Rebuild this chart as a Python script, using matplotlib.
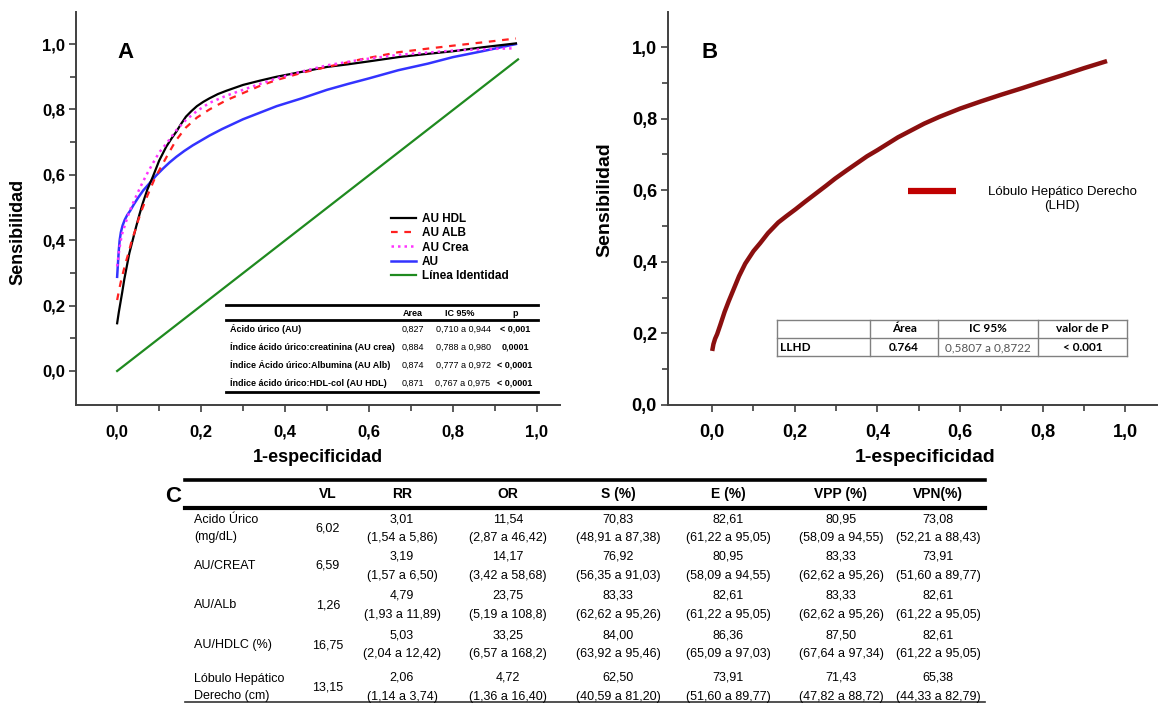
import matplotlib
matplotlib.use('Agg')
import matplotlib.pyplot as plt
from matplotlib.lines import Line2D
from matplotlib.ticker import MultipleLocator, FixedLocator, FuncFormatter

# ---- panel A: ROC curves
hdl_x = [0, 0.004, 0.008, 0.012, 0.017, 0.023, 0.029, 0.037, 0.045, 0.053, 0.061, 0.072, 0.085, 0.1, 0.117, 0.13,
         0.141, 0.153, 0.164, 0.177, 0.19, 0.205, 0.22, 0.24, 0.26, 0.28, 0.30, 0.34, 0.38, 0.44, 0.50, 0.55, 0.60,
         0.67, 0.74, 0.80, 0.87, 0.95]
hdl_y = [0.146, 0.18, 0.21, 0.24, 0.28, 0.32, 0.36, 0.40, 0.44, 0.478, 0.513, 0.555, 0.594, 0.643, 0.686, 0.712,
         0.732, 0.757, 0.778, 0.795, 0.81, 0.823, 0.834, 0.847, 0.857, 0.866, 0.875, 0.888, 0.90, 0.915, 0.93, 0.938,
         0.947, 0.96, 0.97, 0.978, 0.99, 1.002]

alb_x = [0, 0.005, 0.01, 0.015, 0.02, 0.028, 0.035, 0.043, 0.05, 0.06, 0.07, 0.08, 0.09, 0.105, 0.12, 0.14, 0.164,
         0.19, 0.22, 0.26, 0.30, 0.34, 0.38, 0.44, 0.50, 0.58, 0.67, 0.74, 0.80, 0.87, 0.95]
alb_y = [0.217, 0.25, 0.28, 0.305, 0.33, 0.365, 0.40, 0.43, 0.46, 0.497, 0.53, 0.56, 0.59, 0.625, 0.66, 0.705, 0.745,
         0.775, 0.80, 0.828, 0.85, 0.872, 0.89, 0.912, 0.93, 0.953, 0.975, 0.986, 0.995, 1.005, 1.017]

crea_x = [0, 0.003, 0.005, 0.008, 0.012, 0.017, 0.022, 0.03, 0.04, 0.05, 0.06, 0.072, 0.085, 0.1, 0.12, 0.14, 0.164,
          0.19, 0.22, 0.26, 0.30, 0.34, 0.38, 0.44, 0.50, 0.58, 0.67, 0.74, 0.80, 0.87, 0.945]
crea_y = [0.32, 0.35, 0.37, 0.395, 0.42, 0.44, 0.46, 0.49, 0.52, 0.548, 0.575, 0.605, 0.635, 0.668, 0.70, 0.735, 0.768,
          0.795, 0.82, 0.842, 0.86, 0.878, 0.895, 0.916, 0.935, 0.952, 0.967, 0.974, 0.98, 0.984, 0.987]

au_x = [0, 0.002, 0.004, 0.006, 0.009, 0.013, 0.018, 0.024, 0.031, 0.04, 0.05, 0.062, 0.077, 0.093, 0.11, 0.125,
        0.141, 0.16, 0.18, 0.2, 0.22, 0.25, 0.28, 0.30, 0.34, 0.38, 0.44, 0.50, 0.55, 0.60, 0.67, 0.74, 0.80, 0.87, 0.95]
au_y = [0.288, 0.33, 0.37, 0.40, 0.425, 0.445, 0.462, 0.477, 0.49, 0.51, 0.53, 0.552, 0.574, 0.598, 0.62, 0.638,
        0.655, 0.673, 0.69, 0.705, 0.72, 0.74, 0.758, 0.77, 0.79, 0.81, 0.834, 0.86, 0.878, 0.895, 0.92, 0.94, 0.96,
        0.978, 1.0]

ident_x = [0, 0.955]
ident_y = [0, 0.953]

auc_labels = ['Ácido úrico (AU)', 'Índice ácido úrico:creatinina (AU crea)',
              'Índice Ácido úrico:Albumina (AU Alb)', 'Índice ácido úrico:HDL-col (AU HDL)']
auc_area = ['0,827', '0,884', '0,874', '0,871']
auc_ic = ['0,710 a 0,944', '0,788 a 0,980', '0,777 a 0,972', '0,767 a 0,975']
auc_p = ['< 0,001', '0,0001', '< 0,0001', '< 0,0001']

# ---- panel B
lhd_x = [0, 0.003, 0.007, 0.012, 0.02, 0.03, 0.04, 0.05, 0.065, 0.08, 0.1, 0.116, 0.135, 0.16, 0.18, 0.202, 0.225,
         0.25, 0.275, 0.297, 0.325, 0.35, 0.375, 0.40, 0.45, 0.513, 0.55, 0.60, 0.65, 0.70, 0.75, 0.798, 0.85, 0.90,
         0.956]
lhd_y = [0.151, 0.17, 0.185, 0.198, 0.225, 0.26, 0.29, 0.318, 0.36, 0.395, 0.43, 0.452, 0.48, 0.51, 0.528, 0.547,
         0.568, 0.59, 0.612, 0.632, 0.655, 0.675, 0.695, 0.712, 0.748, 0.786, 0.805, 0.828, 0.848, 0.867, 0.885,
         0.903, 0.922, 0.941, 0.961]
lhd_header = ['', 'Área', 'IC 95%', 'valor de P']
lhd_row = ['LLHD', '0.764', '0,5807 a 0,8722', '< 0.001']

# ---- panel C table
c_header = ['VL', 'RR', 'OR', 'S (%)', 'E (%)', 'VPP (%)', 'VPN(%)']
c_labels = ['Acido Úrico\n(mg/dL)', 'AU/CREAT', 'AU/ALb', 'AU/HDLC (%)', 'Lóbulo Hepático\nDerecho (cm)']
c_vl = ['6,02', '6,59', '1,26', '16,75', '13,15']
c_rr = ['3,01', '3,19', '4,79', '5,03', '2,06']
c_rr_ci = ['1,54 a 5,86', '1,57 a 6,50', '1,93 a 11,89', '2,04 a 12,42', '1,14 a 3,74']
c_or = ['11,54', '14,17', '23,75', '33,25', '4,72']
c_or_ci = ['2,87 a 46,42', '3,42 a 58,68', '5,19 a 108,8', '6,57 a 168,2', '1,36 a 16,40']
c_s = ['70,83', '76,92', '83,33', '84,00', '62,50']
c_s_ci = ['48,91 a 87,38', '56,35 a 91,03', '62,62 a 95,26', '63,92 a 95,46', '40,59 a 81,20']
c_e = ['82,61', '80,95', '82,61', '86,36', '73,91']
c_e_ci = ['61,22 a 95,05', '58,09 a 94,55', '61,22 a 95,05', '65,09 a 97,03', '51,60 a 89,77']
c_vpp = ['80,95', '83,33', '83,33', '87,50', '71,43']
c_vpp_ci = ['58,09 a 94,55', '62,62 a 95,26', '62,62 a 95,26', '67,64 a 97,34', '47,82 a 88,72']
c_vpn = ['73,08', '73,91', '82,61', '82,61', '65,38']
c_vpn_ci = ['52,21 a 88,43', '51,60 a 89,77', '61,22 a 95,05', '61,22 a 95,05', '44,33 a 82,79']

W, H = 1159, 704


def fx(x):
    return x / W


def fy(y):
    return 1 - y / H


plt.rcParams['font.family'] = ['Liberation Sans', 'DejaVu Sans']

fig = plt.figure(figsize=(11.59, 7.04), dpi=100)
comma = FuncFormatter(lambda v, p: f'{v:.1f}'.replace('.', ','))


def style_axis(ax, fs):
    for s in ['top', 'right']:
        ax.spines[s].set_visible(False)
    for s in ['left', 'bottom']:
        ax.spines[s].set_color('#404040')
        ax.spines[s].set_linewidth(1.4)
    ax.xaxis.set_major_locator(MultipleLocator(0.2))
    ax.yaxis.set_major_locator(MultipleLocator(0.2))
    ax.xaxis.set_minor_locator(FixedLocator([0.1, 0.3, 0.5, 0.7, 0.9]))
    ax.yaxis.set_minor_locator(FixedLocator([0.1, 0.3, 0.5, 0.7, 0.9]))
    ax.xaxis.set_major_formatter(comma)
    ax.yaxis.set_major_formatter(comma)
    ax.tick_params(which='both', direction='out', color='#404040', width=1.2)
    ax.tick_params(which='major', length=5, labelsize=fs)
    ax.tick_params(which='minor', length=4)
    ax.tick_params(axis='x', pad=9)
    ax.tick_params(axis='y', pad=3)
    for lbl in ax.get_xticklabels() + ax.get_yticklabels():
        lbl.set_fontweight('bold')


# ================= panel A
axA = fig.add_axes([fx(76), fy(405), fx(560 - 76), (405 - 12) / H])
kw = dict(solid_joinstyle='round', dash_joinstyle='round')
axA.plot(ident_x, ident_y, color='#1f8a1f', lw=1.6, **kw)
axA.plot(au_x, au_y, color='#3333ff', lw=1.8, **kw)
axA.plot(hdl_x, hdl_y, color='black', lw=1.6, **kw)
axA.plot(alb_x, alb_y, color='#ff2020', lw=1.6, ls=(0, (3, 3)), **kw)
axA.plot(crea_x, crea_y, color='#ff33ff', lw=1.8, ls=(0, (1, 1.6)), **kw)
axA.set_xlim(-0.098, 1.055)
axA.set_ylim(-0.104, 1.098)
style_axis(axA, 12)
fig.text(fx(18), fy(232), 'Sensibilidad', rotation=90, ha='center', va='center', fontsize=13, fontweight='bold')
fig.text(fx(318), fy(457), '1-especificidad', ha='center', va='center', fontsize=13, fontweight='bold')
fig.text(fx(126), fy(53), 'A', ha='center', va='center', fontsize=16, fontweight='bold')

handles = [Line2D([0], [0], color='black', lw=1.6, label='AU HDL'),
           Line2D([0], [0], color='#ff2020', lw=1.6, ls=(0, (3, 3)), label='AU ALB'),
           Line2D([0], [0], color='#ff33ff', lw=1.8, ls=(0, (1, 1.6)), label='AU Crea'),
           Line2D([0], [0], color='#3333ff', lw=1.8, label='AU'),
           Line2D([0], [0], color='#1f8a1f', lw=1.6, label='Línea Identidad')]
axA.legend(handles=handles, loc='upper left', bbox_to_anchor=(fx(385), fy(207)), bbox_transform=fig.transFigure,
           frameon=False, prop=dict(weight='bold', size=8.5), handlelength=2.1, labelspacing=0.2,
           borderpad=0, handletextpad=0.5)

# table in panel A
for yy in [305, 320, 392]:
    fig.add_artist(Line2D([fx(226), fx(538)], [fy(yy), fy(yy)], color='black', lw=2))
tfs = 6.5
fig.text(fx(413), fy(313), 'Area', ha='center', va='center', fontsize=tfs, fontweight='bold')
fig.text(fx(460), fy(313), 'IC 95%', ha='center', va='center', fontsize=tfs, fontweight='bold')
fig.text(fx(515), fy(313), 'p', ha='center', va='center', fontsize=tfs, fontweight='bold')
for i, yy in enumerate([329, 347, 365, 383]):
    fig.text(fx(230), fy(yy), auc_labels[i], ha='left', va='center', fontsize=tfs, fontweight='bold')
    fig.text(fx(413), fy(yy), auc_area[i], ha='center', va='center', fontsize=tfs)
    fig.text(fx(463), fy(yy), auc_ic[i], ha='center', va='center', fontsize=tfs)
    fig.text(fx(515), fy(yy), auc_p[i], ha='center', va='center', fontsize=tfs, fontweight='bold')

# ================= panel B
axB = fig.add_axes([fx(668), fy(405), fx(1157 - 668), (405 - 12) / H])
axB.plot(lhd_x, lhd_y, color='#8b0f0f', lw=3.2, solid_capstyle='butt', solid_joinstyle='round')
axB.set_xlim(-0.107, 1.077)
axB.set_ylim(0, 1.098)
style_axis(axB, 13)
fig.text(fx(605), fy(200), 'Sensibilidad', rotation=90, ha='center', va='center', fontsize=14, fontweight='bold')
fig.text(fx(925), fy(457), '1-especificidad', ha='center', va='center', fontsize=14, fontweight='bold')
fig.text(fx(710), fy(53), 'B', ha='center', va='center', fontsize=16, fontweight='bold')

fig.add_artist(Line2D([fx(908), fx(956)], [fy(191), fy(191)], color='#c00000', lw=4.5, solid_capstyle='butt'))
fig.text(fx(1062), fy(199), 'Lóbulo Hepático Derecho\n(LHD)', ha='center', va='center', fontsize=9.5,
         multialignment='center', linespacing=1.2)

# table in panel B
bx = [777, 870, 938, 1038, 1127]
by = [320, 338, 356]
for xx in bx:
    fig.add_artist(Line2D([fx(xx), fx(xx)], [fy(by[0]), fy(by[-1])], color='#808080', lw=1))
for yy in by:
    fig.add_artist(Line2D([fx(bx[0]), fx(bx[-1])], [fy(yy), fy(yy)], color='#808080', lw=1))
bfs = 8.5
for j in range(1, 4):
    fig.text(fx((bx[j] + bx[j + 1]) / 2), fy(329), lhd_header[j], ha='center', va='center',
             fontsize=bfs, fontweight='bold', family='Lato')
fig.text(fx(780), fy(347.5), lhd_row[0], ha='left', va='center', fontsize=bfs, fontweight='bold', family='Lato')
fig.text(fx((bx[1] + bx[2]) / 2), fy(347.5), lhd_row[1], ha='center', va='center', fontsize=bfs,
         fontweight='bold', family='Lato')
fig.text(fx((bx[2] + bx[3]) / 2), fy(347.5), lhd_row[2], ha='center', va='center', fontsize=bfs,
         color='#555555', family='Lato')
fig.text(fx((bx[3] + bx[4]) / 2), fy(347.5), lhd_row[3], ha='center', va='center', fontsize=bfs,
         fontweight='bold', family='Lato')

# ================= panel C
cfam = ['Liberation Sans Narrow', 'Liberation Sans']
fig.text(fx(173), fy(497), 'C', ha='center', va='center', fontsize=16, fontweight='bold')
fig.add_artist(Line2D([fx(185), fx(985)], [fy(480), fy(480)], color='black', lw=2.6))
fig.add_artist(Line2D([fx(185), fx(985)], [fy(508), fy(508)], color='black', lw=3))
fig.add_artist(Line2D([fx(185), fx(985)], [fy(702), fy(702)], color='#333333', lw=1.2))

col_x = [328, 402, 508, 618, 728, 841, 938]
for j, h in enumerate(c_header):
    fig.text(fx(col_x[j]), fy(494), h, ha='center', va='center', fontsize=10, fontweight='bold', family=cfam)

row_c = [528.5, 566, 605.5, 645, 687.5]
vals = [c_rr, c_or, c_s, c_e, c_vpp, c_vpn]
cis = [c_rr_ci, c_or_ci, c_s_ci, c_e_ci, c_vpp_ci, c_vpn_ci]
cfs = 9
for i, yc in enumerate(row_c):
    fig.text(fx(194), fy(yc), c_labels[i], ha='left', va='center', fontsize=cfs, family=cfam, linespacing=1.5)
    fig.text(fx(col_x[0]), fy(yc), c_vl[i], ha='center', va='center', fontsize=cfs, family=cfam)
    for j in range(6):
        fig.text(fx(col_x[j + 1]), fy(yc - 9.5), vals[j][i], ha='center', va='center', fontsize=cfs, family=cfam)
        fig.text(fx(col_x[j + 1]), fy(yc + 9.5), '(' + cis[j][i] + ')', ha='center', va='center',
                 fontsize=cfs, family=cfam)

fig.savefig('out.png', dpi=100)
